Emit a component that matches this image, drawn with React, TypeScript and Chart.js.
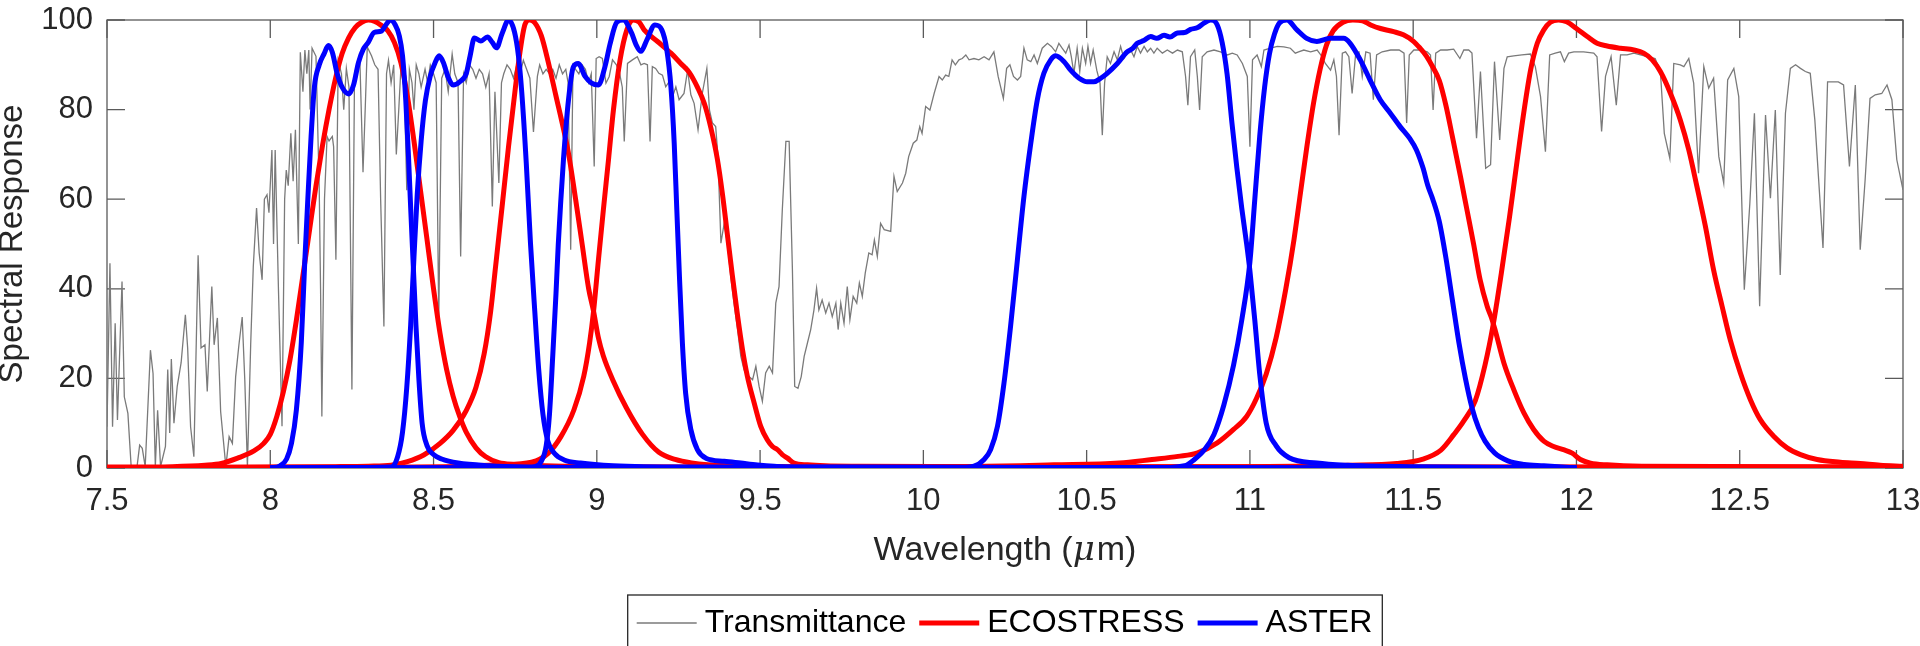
import React, { useEffect, useRef } from 'react';
import { Chart, registerables } from 'chart.js';

Chart.register(...registerables);

type Pt = [number, number];

// ---------------- axis ticks ----------------
const xTicks = [7.5, 8, 8.5, 9, 9.5, 10, 10.5, 11, 11.5, 12, 12.5, 13];
const yTicks = [0, 20, 40, 60, 80, 100];

const xTitleMain = 'Wavelength (';
const xTitleMu = 'μ';
const xTitleEnd = 'm)';
const yTitle = 'Spectral Response';

// ---------------- atmospheric transmittance ----------------
const transmittance: Pt[] = [
  [7.5, 9.2], [7.509, 45.7], [7.517, 9.2], [7.525, 32.3], [7.532, 10.7], [7.546, 41.6], [7.553, 15.9], [7.564, 12.2],
  [7.574, 0.3], [7.592, 0.3], [7.6, 5.1], [7.608, 4.4], [7.617, 0.3], [7.633, 26.3], [7.641, 21.1], [7.648, 0.3],
  [7.655, 12.9], [7.664, 0.3], [7.679, 4.8], [7.686, 22], [7.692, 7.8], [7.697, 24.3], [7.705, 10], [7.715, 18.2],
  [7.727, 23.5], [7.74, 34.2], [7.747, 26.8], [7.756, 9.2], [7.766, 2.5], [7.779, 47.5], [7.788, 26.8], [7.8, 27.5],
  [7.807, 17.1], [7.821, 40.5], [7.828, 27.5], [7.838, 33.5], [7.848, 12.6], [7.864, 0.3], [7.874, 7], [7.884, 5.5],
  [7.894, 20.4], [7.904, 27.5], [7.914, 33.7], [7.922, 19.6], [7.93, 0.3], [7.94, 27.5], [7.948, 45], [7.958, 58],
  [7.966, 48], [7.975, 42], [7.982, 60], [7.99, 61], [7.996, 57], [8.005, 71], [8.01, 50], [8.015, 71],
  [8.025, 40], [8.036, 9.3], [8.044, 60], [8.049, 66.5], [8.055, 63], [8.063, 74.7], [8.07, 64], [8.077, 75.5],
  [8.086, 50], [8.092, 92.8], [8.1, 84], [8.106, 93.3], [8.112, 88], [8.118, 93.3], [8.122, 80], [8.128, 93.7], [8.14, 91.9],
  [8.15, 62], [8.154, 40], [8.158, 11.5], [8.166, 60], [8.174, 74], [8.18, 73], [8.19, 74], [8.194, 71.7], [8.201, 46.5],
  [8.208, 91], [8.218, 88], [8.225, 80], [8.233, 89.2], [8.241, 85], [8.25, 17.5], [8.258, 88], [8.265, 90],
  [8.274, 92], [8.284, 66], [8.291, 80.7], [8.297, 94], [8.31, 92], [8.32, 90], [8.33, 89], [8.338, 60],
  [8.348, 31.6], [8.356, 88], [8.362, 91], [8.37, 86], [8.378, 90], [8.386, 70], [8.394, 80.7], [8.402, 92],
  [8.41, 87], [8.418, 62], [8.426, 89], [8.434, 86], [8.44, 80], [8.447, 90], [8.455, 88], [8.462, 85],
  [8.474, 89], [8.482, 86], [8.49, 90], [8.5, 88], [8.508, 86], [8.516, 33], [8.525, 87], [8.535, 89],
  [8.545, 84], [8.557, 92.4], [8.565, 88], [8.575, 86], [8.583, 47.2], [8.592, 88], [8.6, 86], [8.61, 90],
  [8.62, 89], [8.63, 87], [8.64, 89], [8.65, 88], [8.66, 85], [8.67, 88], [8.68, 58.4], [8.688, 84],
  [8.7, 63.6], [8.708, 86], [8.715, 88], [8.725, 90], [8.735, 89], [8.745, 87], [8.755, 90], [8.765, 88],
  [8.775, 91], [8.785, 89], [8.795, 87], [8.806, 75], [8.818, 87.4], [8.825, 90], [8.835, 88], [8.845, 89],
  [8.855, 88], [8.865, 89], [8.875, 87], [8.885, 90], [8.895, 88], [8.905, 89], [8.912, 86], [8.92, 48.7],
  [8.927, 90], [8.935, 89], [8.945, 88], [8.955, 90], [8.965, 89], [8.975, 86], [8.983, 88], [8.992, 67.3],
  [8.998, 91.4], [9.007, 91.8], [9.017, 91.4], [9.028, 85.9], [9.038, 87.4], [9.048, 91.1], [9.06, 90], [9.07, 88],
  [9.078, 85], [9.084, 72.9], [9.094, 90.3], [9.109, 91.1], [9.124, 91.8], [9.135, 90], [9.145, 90.3], [9.155, 90],
  [9.163, 72.9], [9.17, 89.6], [9.18, 89.2], [9.19, 88.1], [9.201, 87.7], [9.211, 85.1], [9.221, 86.2], [9.232, 82.9],
  [9.242, 85.1], [9.252, 82.2], [9.267, 83.6], [9.278, 88.8], [9.288, 83.3], [9.298, 81.4], [9.31, 75.5], [9.323, 83.6],
  [9.337, 89.2], [9.345, 79.9], [9.354, 77], [9.364, 76.2], [9.371, 69.5], [9.38, 50.2], [9.39, 54.6], [9.4, 50.2],
  [9.41, 42.8], [9.42, 36.8], [9.431, 30.9], [9.441, 24.9], [9.451, 21.9], [9.466, 20.4], [9.477, 19.7], [9.487, 22.7],
  [9.497, 18.2], [9.507, 14.9], [9.517, 21.2], [9.528, 22.7], [9.538, 21.2], [9.548, 36.8], [9.558, 40.5], [9.568, 57.6],
  [9.579, 72.9], [9.589, 72.9], [9.599, 44.2], [9.606, 18.2], [9.616, 17.8], [9.626, 20.4], [9.635, 24.9], [9.645, 27.9],
  [9.655, 30.9], [9.665, 35.3], [9.673, 40.1], [9.68, 35.3], [9.69, 37.5], [9.701, 34.6], [9.711, 36.8], [9.721, 33.8],
  [9.732, 36.8], [9.739, 30.9], [9.747, 36.8], [9.757, 32.3], [9.767, 40.5], [9.775, 33.1], [9.785, 38.3], [9.796, 36.8],
  [9.804, 41.3], [9.813, 38.3], [9.822, 43.5], [9.833, 48], [9.843, 47.6], [9.85, 50.9], [9.859, 47.2], [9.869, 54.6],
  [9.88, 53.2], [9.9, 52.8], [9.91, 65.1], [9.92, 61.7], [9.936, 63.6], [9.946, 65.8], [9.955, 69.5], [9.969, 72.5],
  [9.98, 73.2], [9.989, 76.2], [9.996, 74.7], [10.007, 80.7], [10.02, 79.9], [10.033, 83.6], [10.048, 87.4], [10.058, 86.6],
  [10.068, 87.7], [10.078, 87.4], [10.088, 91.1], [10.098, 90], [10.109, 91.1], [10.119, 91.4], [10.13, 92.2], [10.14, 91.1],
  [10.155, 91.4], [10.17, 91.1], [10.186, 91.8], [10.201, 91.1], [10.216, 92.9], [10.229, 87.4], [10.245, 82.5], [10.255, 89.2],
  [10.265, 90], [10.276, 87.4], [10.288, 86.6], [10.298, 87.4], [10.308, 93.7], [10.318, 91.1], [10.329, 90.7], [10.339, 92.2],
  [10.349, 90.3], [10.364, 93.7], [10.38, 94.8], [10.392, 94.1], [10.405, 92.9], [10.415, 94.8], [10.425, 93.7], [10.436, 92.6],
  [10.446, 94.4], [10.453, 91.8], [10.461, 88.1], [10.471, 93.7], [10.479, 88.5], [10.487, 93.7], [10.497, 90.3], [10.504, 94.1],
  [10.512, 90.3], [10.52, 93.3], [10.531, 88.8], [10.541, 85.9], [10.548, 74.3], [10.555, 85.9], [10.563, 91.8], [10.573, 90.3],
  [10.584, 92.9], [10.594, 91.1], [10.604, 94.1], [10.614, 91.4], [10.624, 92.6], [10.635, 93.3], [10.645, 91.8], [10.655, 94.1],
  [10.665, 92.6], [10.676, 94.1], [10.686, 92.9], [10.696, 93.7], [10.706, 92.6], [10.716, 93.7], [10.732, 92.6], [10.747, 93.3],
  [10.763, 92.6], [10.778, 93.3], [10.793, 92.9], [10.803, 87.4], [10.81, 81], [10.818, 91.8], [10.831, 93.3], [10.839, 87.4],
  [10.846, 79.9], [10.854, 91.8], [10.869, 92.9], [10.89, 93.3], [10.91, 92.9], [10.931, 92.2], [10.946, 92.6], [10.961, 92.2],
  [10.977, 90.3], [10.992, 87.4], [11.0, 71.7], [11.008, 91.1], [11.022, 92.2], [11.035, 89.6], [11.043, 93.3], [11.063, 93.7],
  [11.084, 94.1], [11.104, 94], [11.124, 93.7], [11.139, 92.6], [11.149, 92.9], [11.165, 93.3], [11.186, 92.9], [11.206, 93.3],
  [11.221, 91.8], [11.231, 90.3], [11.247, 88.8], [11.257, 91.1], [11.265, 87.4], [11.273, 74.3], [11.283, 92.6], [11.293, 92.9],
  [11.303, 91.8], [11.313, 83.6], [11.324, 92.6], [11.334, 92.9], [11.344, 87.4], [11.355, 92.9], [11.368, 92.6], [11.378, 82.2],
  [11.388, 92.2], [11.405, 92.9], [11.431, 93.3], [11.457, 93.3], [11.472, 92.6], [11.48, 77], [11.488, 92.2], [11.502, 93.3],
  [11.522, 93.3], [11.543, 92.9], [11.553, 92.2], [11.561, 79.9], [11.569, 92.6], [11.584, 93.3], [11.604, 93.3], [11.624, 93.5],
  [11.643, 91.4], [11.655, 93.3], [11.67, 93.3], [11.68, 92.6], [11.694, 73.6], [11.706, 88.5], [11.722, 66.9], [11.737, 67.7],
  [11.749, 90.7], [11.765, 73.2], [11.778, 89.2], [11.788, 91.8], [11.808, 92], [11.833, 92.2], [11.859, 92.4], [11.874, 89.6],
  [11.89, 82.9], [11.905, 70.6], [11.918, 92.2], [11.935, 92.6], [11.951, 92.9], [11.963, 90.7], [11.976, 92.6], [11.992, 92.9],
  [12.022, 92.9], [12.053, 92.6], [12.063, 91.8], [12.077, 75.1], [12.089, 87.4], [12.106, 91.8], [12.122, 81], [12.135, 92.2],
  [12.155, 92.2], [12.176, 92.6], [12.196, 92.2], [12.216, 91.8], [12.241, 91.4], [12.257, 88.5], [12.269, 74.7], [12.286, 69.1],
  [12.298, 90.3], [12.318, 90], [12.329, 89.6], [12.344, 91.4], [12.359, 85.9], [12.374, 65.8], [12.39, 89.6], [12.405, 84.8],
  [12.42, 87], [12.436, 69.5], [12.451, 63.6], [12.463, 86.6], [12.482, 89.2], [12.497, 82.9], [12.514, 39.8], [12.531, 59.1],
  [12.545, 79.2], [12.561, 36.1], [12.579, 78.8], [12.594, 60.2], [12.609, 79.9], [12.624, 43.1], [12.64, 79.2], [12.655, 89.2],
  [12.671, 90], [12.686, 89.2], [12.701, 88.5], [12.716, 88.1], [12.73, 77.7], [12.755, 49.1], [12.769, 86.2], [12.787, 86.2],
  [12.802, 86.2], [12.818, 85.5], [12.836, 67.3], [12.854, 85.5], [12.869, 48.7], [12.884, 64.3], [12.899, 82.5], [12.915, 83.3],
  [12.935, 83.6], [12.951, 85.5], [12.966, 82.2], [12.981, 68.8], [13.0, 62.1],
];

// ---------------- ECOSTRESS bands ----------------
const ecoBand1: Pt[] = [
  [7.5, 0.2], [7.7, 0.3], [7.8, 0.6], [7.85, 1], [7.9, 2.2], [7.95, 3.8], [7.98, 5.5], [8.0, 7.5], [8.02, 11.5],
  [8.04, 17], [8.06, 24], [8.08, 33], [8.1, 43], [8.12, 53], [8.14, 63], [8.16, 72], [8.18, 80], [8.2, 87],
  [8.22, 92.5], [8.24, 96], [8.26, 98.3], [8.28, 99.5], [8.3, 100], [8.32, 99.7], [8.34, 98.8], [8.36, 97.6],
  [8.38, 95], [8.4, 90.5], [8.42, 83], [8.44, 73], [8.46, 62], [8.48, 51], [8.5, 40], [8.52, 30], [8.54, 22],
  [8.56, 16], [8.58, 11.5], [8.6, 8], [8.63, 4.5], [8.66, 2.5], [8.7, 1.2], [8.75, 0.8], [8.8, 0.6], [8.9, 0.4],
  [9.0, 0.3], [9.5, 0.2], [10, 0.2], [11, 0.2], [12, 0.2], [13, 0.2],
];
const ecoBand2: Pt[] = [
  [7.5, 0.1], [8.0, 0.2], [8.2, 0.3], [8.3, 0.4], [8.37, 0.6], [8.42, 1.4], [8.47, 2.9], [8.52, 5.5], [8.56, 8.4],
  [8.6, 12.8], [8.63, 18], [8.655, 25.5], [8.675, 35], [8.69, 45], [8.71, 58.4], [8.73, 72], [8.75, 84.5],
  [8.765, 93], [8.78, 99], [8.795, 100], [8.81, 99.4], [8.83, 96.5], [8.85, 91], [8.875, 83], [8.9, 75],
  [8.915, 69.5], [8.935, 60], [8.955, 50], [8.975, 40], [8.99, 35], [9.005, 29], [9.02, 25], [9.05, 19.5],
  [9.09, 13.5], [9.14, 7.5], [9.19, 3.5], [9.24, 1.9], [9.29, 1.1], [9.34, 0.7], [9.45, 0.4], [10, 0.2], [13, 0.1],
];
const ecoBand3: Pt[] = [
  [7.5, 0.1], [8.3, 0.2], [8.6, 0.4], [8.7, 0.7], [8.8, 1.3], [8.85, 3.2], [8.89, 7], [8.93, 13], [8.96, 20.5],
  [8.978, 28], [8.99, 35], [9.005, 46.5], [9.02, 57.6], [9.036, 69], [9.051, 80], [9.071, 91], [9.092, 97.8],
  [9.112, 100], [9.13, 99.5], [9.145, 97.8], [9.186, 95.2], [9.227, 92.6], [9.257, 90.3], [9.283, 88.3],
  [9.308, 85], [9.329, 81.4], [9.349, 76], [9.369, 69], [9.385, 61], [9.4, 52], [9.415, 43], [9.431, 34],
  [9.446, 26.5], [9.461, 20.5], [9.482, 14.5], [9.502, 9.3], [9.522, 6.3], [9.538, 4.8], [9.553, 4.1],
  [9.568, 3], [9.584, 2.2], [9.604, 1.1], [9.645, 0.7], [9.7, 0.5], [9.8, 0.4], [10.5, 0.2], [13, 0.1],
];
const ecoBand4: Pt[] = [
  [7.5, 0.1], [9, 0.1], [10, 0.2], [10.4, 0.7], [10.6, 1.1], [10.7, 1.9], [10.78, 2.6], [10.84, 3.4], [10.9, 5.6],
  [10.95, 8.6], [10.99, 11.5], [11.02, 15.5], [11.05, 21], [11.08, 29], [11.11, 40], [11.135, 51], [11.155, 61.5],
  [11.175, 72], [11.195, 81.5], [11.215, 89], [11.235, 94.5], [11.255, 97.6], [11.285, 99.5], [11.315, 100],
  [11.345, 99.8], [11.37, 98.9], [11.4, 98.1], [11.44, 97.4], [11.47, 96.7], [11.5, 95.3], [11.52, 93.8],
  [11.54, 92], [11.56, 89.5], [11.58, 86.5], [11.6, 81], [11.62, 74], [11.645, 65], [11.665, 57.5], [11.685, 50],
  [11.705, 42], [11.727, 36], [11.74, 33.5], [11.752, 30.5], [11.778, 23.4], [11.808, 17.5], [11.839, 12.3],
  [11.869, 8.6], [11.9, 6], [11.93, 4.8], [11.96, 4.1], [11.987, 3.3], [12.012, 1.9], [12.043, 1.1],
  [12.094, 0.7], [12.2, 0.4], [13, 0.2],
];
const ecoBand5: Pt[] = [
  [7.5, 0.1], [10, 0.1], [11, 0.3], [11.3, 0.6], [11.45, 1], [11.53, 2], [11.585, 4], [11.625, 7.5], [11.655, 10.5],
  [11.69, 15], [11.72, 23], [11.745, 32], [11.77, 43.5], [11.795, 56], [11.82, 69.5], [11.84, 80], [11.86, 89],
  [11.88, 94.8], [11.9, 97.8], [11.92, 99.5], [11.945, 100], [11.97, 99.6], [12.0, 98.1], [12.033, 96.3],
  [12.063, 94.8], [12.094, 94.2], [12.135, 93.7], [12.176, 93.3], [12.206, 92.6], [12.232, 91.1], [12.257, 88.5],
  [12.288, 83.6], [12.318, 77.7], [12.344, 71], [12.369, 62.8], [12.395, 53.9], [12.42, 44.2], [12.446, 36.1],
  [12.471, 28.6], [12.502, 21.2], [12.533, 15.2], [12.563, 10.8], [12.604, 7.1], [12.645, 4.5], [12.686, 3],
  [12.737, 1.9], [12.808, 1.3], [12.869, 1], [12.93, 0.6], [13.0, 0.4],
];

// ---------------- ASTER TIR bands ----------------
const asterBand10: Pt[] = [
  [8.0, 0], [8.03, 0.5], [8.05, 2], [8.065, 5.5], [8.08, 13], [8.095, 28], [8.105, 45], [8.115, 60], [8.125, 74],
  [8.135, 85], [8.15, 90], [8.165, 92.5], [8.178, 94.3], [8.19, 92.8], [8.205, 88], [8.22, 85], [8.24, 83.5],
  [8.255, 85.5], [8.27, 90.5], [8.285, 93.5], [8.3, 95], [8.318, 97.2], [8.34, 97.5], [8.355, 99], [8.368, 100],
  [8.382, 99], [8.395, 96.5], [8.405, 92], [8.415, 82], [8.423, 70], [8.43, 58], [8.438, 45], [8.446, 32],
  [8.455, 20], [8.465, 10], [8.48, 5], [8.5, 3], [8.525, 2], [8.575, 1.1], [8.67, 0.5], [8.8, 0.2], [9, 0.1], [12, 0],
];
const asterBand11: Pt[] = [
  [8.0, 0], [8.37, 0.2], [8.39, 2.5], [8.405, 8], [8.418, 18], [8.43, 32], [8.44, 47], [8.45, 61], [8.462, 73],
  [8.475, 82], [8.49, 87.5], [8.505, 90.5], [8.517, 92], [8.53, 90.5], [8.545, 87.2], [8.56, 85.5], [8.58, 86.2],
  [8.6, 88], [8.612, 92], [8.625, 96], [8.645, 95.3], [8.665, 96.2], [8.68, 95], [8.693, 93.8], [8.71, 97],
  [8.73, 100], [8.748, 97.3], [8.76, 92], [8.77, 84], [8.784, 68], [8.797, 50], [8.81, 35], [8.822, 22],
  [8.835, 12], [8.85, 6], [8.87, 3.3], [8.9, 1.8], [8.95, 1.1], [9.05, 0.5], [9.3, 0.2], [12, 0],
];
const asterBand12: Pt[] = [
  [8.0, 0], [8.78, 0], [8.811, 0.3], [8.83, 1.5], [8.845, 5], [8.855, 12], [8.865, 25], [8.875, 39], [8.882, 50],
  [8.89, 60], [8.898, 69], [8.913, 82], [8.928, 89.5], [8.943, 90.3], [8.964, 87.4], [8.984, 85.9], [9.005, 85.5],
  [9.025, 89.6], [9.041, 94.8], [9.061, 99.5], [9.081, 100], [9.107, 97], [9.12, 94.5], [9.135, 93], [9.153, 95.5],
  [9.178, 98.9], [9.199, 97.8], [9.214, 93.5], [9.227, 85], [9.237, 72.5], [9.245, 57.6], [9.253, 42.8],
  [9.262, 28], [9.272, 16.7], [9.288, 8.6], [9.308, 4.1], [9.334, 2.2], [9.39, 1.5], [9.441, 1.1], [9.492, 0.7],
  [9.543, 0.4], [9.6, 0.2], [12, 0],
];
const asterBand13: Pt[] = [
  [8.0, 0], [10.1, 0], [10.155, 0.4], [10.186, 1.9], [10.206, 4.1], [10.227, 9.3], [10.247, 19], [10.267, 31.6],
  [10.288, 46.5], [10.308, 60.6], [10.329, 72.5], [10.349, 82.2], [10.369, 88.1], [10.39, 91.1], [10.405, 92],
  [10.431, 90.7], [10.451, 88.8], [10.477, 87], [10.502, 86.2], [10.522, 86.2], [10.543, 87], [10.563, 88.1],
  [10.594, 90.3], [10.624, 92.9], [10.64, 93.6], [10.655, 94.8], [10.675, 95.4], [10.696, 96.3], [10.715, 95.9],
  [10.737, 96.6], [10.755, 96.2], [10.778, 97.1], [10.8, 97.2], [10.818, 97.9], [10.84, 98.3], [10.859, 99.3],
  [10.88, 100], [10.9, 98.9], [10.915, 95], [10.93, 88], [10.945, 77], [10.96, 67], [10.975, 58],
  [10.99, 50], [11.0, 44], [11.015, 33], [11.03, 21], [11.05, 10], [11.08, 5], [11.12, 2.3], [11.205, 1.1],
  [11.3, 0.6], [11.5, 0.3], [12, 0],
];
const asterBand14: Pt[] = [
  [8.0, 0], [10.7, 0], [10.8, 0.5], [10.83, 1.9], [10.86, 4], [10.89, 7.5], [10.92, 14], [10.95, 23], [10.975, 33],
  [11.0, 46], [11.015, 60], [11.03, 74], [11.045, 85], [11.06, 92.5], [11.075, 96.8], [11.09, 99.3], [11.113, 100],
  [11.144, 97.8], [11.174, 95.9], [11.205, 95.2], [11.246, 95.9], [11.287, 95.9], [11.307, 94.8], [11.338, 91.1],
  [11.368, 86.6], [11.399, 82.2], [11.43, 79.2], [11.46, 76.2], [11.49, 73.5], [11.51, 71], [11.53, 67],
  [11.545, 63], [11.56, 60], [11.58, 55], [11.6, 47], [11.62, 37.5], [11.64, 28], [11.66, 20], [11.68, 13.5],
  [11.7, 9], [11.72, 6], [11.75, 3.3], [11.79, 1.6], [11.84, 0.8], [11.9, 0.5], [12, 0],
];

const ecoBands = [ecoBand1, ecoBand2, ecoBand3, ecoBand4, ecoBand5];
const asterBands = [asterBand10, asterBand11, asterBand12, asterBand13, asterBand14];

const FONT = '"Liberation Sans", Arial, Helvetica, sans-serif';
const TEXT = '#262626';
const GRAY = '#7a7a7a';
const RED = '#ff0000';
const BLUE = '#0000ff';

const toXY = (arr: Pt[]) => arr.map(([x, y]) => ({ x, y }));

// box with inward ticks on all four sides (drawn beneath data)
const axesBoxPlugin = {
  id: 'axesBox',
  beforeDatasetsDraw(chart: any) {
    const { ctx, chartArea, scales } = chart;
    const { left, right, top, bottom } = chartArea;
    const L = 18;
    ctx.save();
    ctx.strokeStyle = '#5a5a5a';
    ctx.lineWidth = 1.3;
    ctx.strokeRect(left, top, right - left, bottom - top);
    ctx.beginPath();
    xTicks.forEach((v) => {
      const px = scales.x.getPixelForValue(v);
      ctx.moveTo(px, bottom);
      ctx.lineTo(px, bottom - L);
      ctx.moveTo(px, top);
      ctx.lineTo(px, top + L);
    });
    yTicks.forEach((v) => {
      const py = scales.y.getPixelForValue(v);
      ctx.moveTo(left, py);
      ctx.lineTo(left + L, py);
      ctx.moveTo(right, py);
      ctx.lineTo(right - L, py);
    });
    ctx.stroke();
    ctx.restore();
  },
};

// x-axis title with italic mu
const xTitlePlugin = {
  id: 'xTitle',
  afterDraw(chart: any) {
    const { ctx, chartArea } = chart;
    const normal = `34px ${FONT}`;
    const italic = `italic 34px "DejaVu Serif", "Liberation Serif", serif`;
    ctx.save();
    ctx.fillStyle = TEXT;
    ctx.textBaseline = 'alphabetic';
    ctx.textAlign = 'left';
    ctx.font = normal;
    const w1 = ctx.measureText(xTitleMain).width;
    const w3 = ctx.measureText(xTitleEnd).width;
    ctx.font = italic;
    const w2 = ctx.measureText(xTitleMu).width + 2;
    const total = w1 + w2 + w3;
    const cx = (chartArea.left + chartArea.right) / 2;
    let x = cx - total / 2;
    const y = chartArea.bottom + 92;
    ctx.font = normal;
    ctx.fillText(xTitleMain, x, y);
    x += w1;
    ctx.font = italic;
    ctx.fillText(xTitleMu, x, y);
    x += w2;
    ctx.font = normal;
    ctx.fillText(xTitleEnd, x, y);
    ctx.restore();
  },
};

// boxed horizontal legend below the axes
const boxLegendPlugin = {
  id: 'boxLegend',
  afterDraw(chart: any) {
    const { ctx, chartArea } = chart;
    const seen = new Set<string>();
    const items: { label: string; color: string; width: number }[] = [];
    chart.data.datasets.forEach((ds: any) => {
      if (!seen.has(ds.label)) {
        seen.add(ds.label);
        items.push({ label: ds.label, color: ds.borderColor, width: ds.borderWidth });
      }
    });
    const sampleLen = 60;
    const gapText = 8;
    const gapItem = 13;
    const padL = 9;
    const padR = 10;
    ctx.save();
    ctx.font = `32px ${FONT}`;
    const widths = items.map((it) => ctx.measureText(it.label).width);
    let total = padL + padR + gapItem * (items.length - 1);
    widths.forEach((w) => (total += sampleLen + gapText + w));
    const cx = (chartArea.left + chartArea.right) / 2;
    const x0 = cx - total / 2;
    const top = 595;
    const cy = 623;
    ctx.fillStyle = '#ffffff';
    ctx.fillRect(x0, top, total, 60);
    ctx.strokeStyle = '#262626';
    ctx.lineWidth = 1.3;
    ctx.strokeRect(x0, top, total, 60);
    let x = x0 + padL;
    items.forEach((it, i) => {
      ctx.beginPath();
      ctx.strokeStyle = it.color;
      ctx.lineWidth = it.width;
      ctx.moveTo(x, cy);
      ctx.lineTo(x + sampleLen, cy);
      ctx.stroke();
      x += sampleLen + gapText;
      ctx.fillStyle = '#000000';
      ctx.textBaseline = 'middle';
      ctx.textAlign = 'left';
      ctx.fillText(it.label, x, cy);
      x += widths[i] + gapItem;
    });
    ctx.restore();
  },
};

export default function App() {
  const canvasRef = useRef<HTMLCanvasElement | null>(null);

  useEffect(() => {
    if (!canvasRef.current) return;
    const datasets: any[] = [];
    datasets.push({
      label: 'Transmittance',
      data: toXY(transmittance),
      borderColor: GRAY,
      borderWidth: 1.3,
      pointRadius: 0,
      tension: 0,
      order: 3,
    });
    ecoBands.forEach((b) =>
      datasets.push({
        label: 'ECOSTRESS',
        data: toXY(b),
        borderColor: RED,
        borderWidth: 5,
        pointRadius: 0,
        cubicInterpolationMode: 'monotone',
        order: 2,
      })
    );
    asterBands.forEach((b) =>
      datasets.push({
        label: 'ASTER',
        data: toXY(b),
        borderColor: BLUE,
        borderWidth: 5,
        pointRadius: 0,
        cubicInterpolationMode: 'monotone',
        order: 1,
      })
    );

    const chart = new Chart(canvasRef.current, {
      type: 'line',
      data: { datasets },
      options: {
        responsive: false,
        animation: false,
        devicePixelRatio: 1,
        events: [],
        layout: { padding: { left: 0, right: 17, top: 20, bottom: 0 } },
        plugins: {
          legend: { display: false },
          tooltip: { enabled: false },
          title: { display: false },
        },
        scales: {
          x: {
            type: 'linear',
            min: 7.5,
            max: 13,
            afterBuildTicks: (s: any) => {
              s.ticks = xTicks.map((v) => ({ value: v }));
            },
            afterFit: (s: any) => {
              s.height = 178;
              s.paddingLeft = 0;
              s.paddingRight = 0;
            },
            grid: { display: false, drawTicks: false },
            border: { display: false },
            ticks: {
              autoSkip: false,
              maxRotation: 0,
              padding: 15,
              color: TEXT,
              font: { family: FONT, size: 31 },
              callback: (v: any) => String(v),
            },
          },
          y: {
            type: 'linear',
            min: 0,
            max: 100,
            afterBuildTicks: (s: any) => {
              s.ticks = yTicks.map((v) => ({ value: v }));
            },
            afterFit: (s: any) => {
              s.width = 107;
              s.paddingTop = 0;
              s.paddingBottom = 0;
            },
            grid: { display: false, drawTicks: false },
            border: { display: false },
            ticks: {
              padding: 14,
              color: TEXT,
              font: { family: FONT, size: 31 },
              callback: (v: any) => String(v),
            },
            title: {
              display: true,
              text: yTitle,
              color: TEXT,
              font: { family: FONT, size: 33, lineHeight: 0.8 },
              padding: { top: 0, bottom: 0 },
            },
          },
        },
      } as any,
      plugins: [axesBoxPlugin, xTitlePlugin, boxLegendPlugin],
    });
    return () => chart.destroy();
  }, []);

  return (
    <div style={{ position: 'absolute', left: 0, top: 0, width: 1920, height: 646, background: '#ffffff' }}>
      <canvas ref={canvasRef} width={1920} height={646} style={{ display: 'block' }} />
    </div>
  );
}
